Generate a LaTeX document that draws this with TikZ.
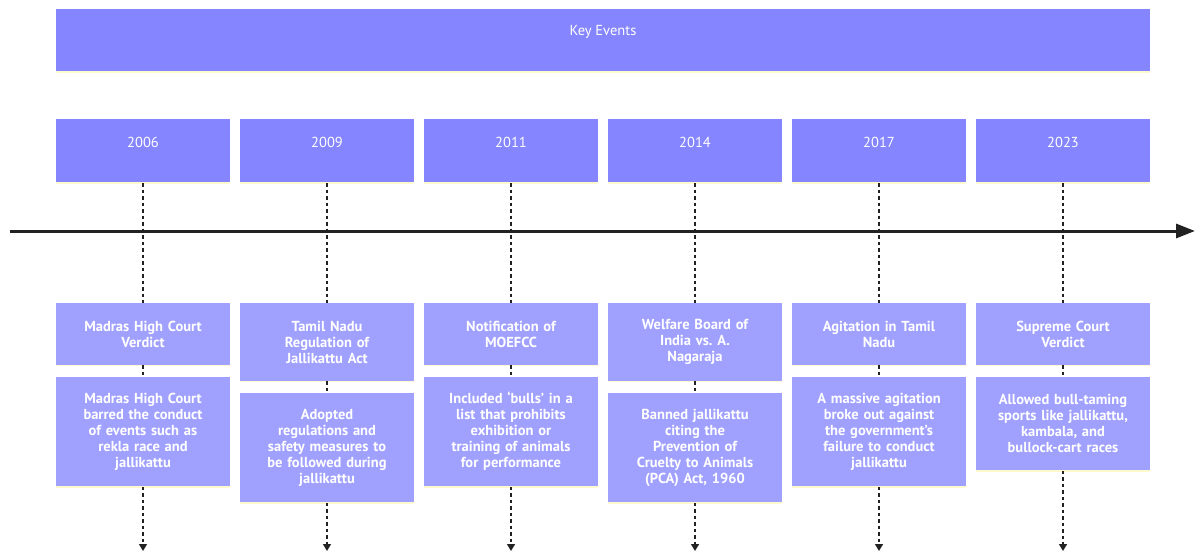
\documentclass[tikz,border=0pt]{standalone}
\usepackage{fontspec}
\setmainfont{PT Sans}
\usetikzlibrary{positioning,arrows.meta}

\definecolor{keyblue}{HTML}{8585FF}
\definecolor{cardblue}{HTML}{A0A0FF}
\definecolor{edgeyellow}{HTML}{FFFACD}
\definecolor{lineblack}{HTML}{222222}

\tikzset{
  yearbox/.style={fill=keyblue, text=white, minimum width=174pt, inner ysep=0pt,
    text height=28pt, text depth=36pt, font=\fontsize{14.5}{16}\selectfont},
  card/.style={fill=cardblue, text=white, text width=168pt, inner xsep=3pt,
    inner ysep=3pt, align=center, anchor=north,
    font=\fontsize{14.5}{16}\selectfont\bfseries},
  rows/.style={minimum height={16pt*#1+30pt}},
  link/.style={lineblack, line width=1.4pt, dash pattern=on 3.5pt off 3pt},
  downlink/.style={link, -{Triangle[length=7pt,width=8pt]}},
}

\begin{document}
\begin{tikzpicture}[x=1pt,y=-1pt]
\useasboundingbox (0,0) rectangle (1195,551);

\node[yearbox, minimum width=1094pt, text height=27pt] (head) at (603,40.5) {Key Events};

% years
\node[yearbox] (y1) at (143,151) {2006};
\node[yearbox] (y2) at (327,151) {2009};
\node[yearbox] (y3) at (511,151) {2011};
\node[yearbox] (y4) at (695,151) {2014};
\node[yearbox] (y5) at (879,151) {2017};
\node[yearbox] (y6) at (1063,151) {2023};

% event titles
\node[card, rows=2] (t1) at (143,303) {Madras High Court\\Verdict};
\node[card, rows=3] (t2) at (327,303) {Tamil Nadu\\Regulation of\\Jallikattu Act};
\node[card, rows=2] (t3) at (511,303) {Notification of\\MOEFCC};
\node[card, rows=3] (t4) at (695,303) {Welfare Board of\\India vs.\ A.\\Nagaraja};
\node[card, rows=2] (t5) at (879,303) {Agitation in Tamil\\Nadu};
\node[card, rows=2] (t6) at (1063,303) {Supreme Court\\Verdict};

% event details
\node[card, rows=5, below=11pt of t1] (d1) {Madras High Court\\barred the conduct\\of events such as\\rekla race and\\jallikattu};
\node[card, rows=5, below=11pt of t2] (d2) {Adopted\\regulations and\\safety measures to\\be followed during\\jallikattu};
\node[card, rows=5, below=11pt of t3] (d3) {Included ‘bulls’ in a\\list that prohibits\\exhibition or\\training of animals\\for performance};
\node[card, rows=5, below=11pt of t4] (d4) {Banned jallikattu\\citing the\\Prevention of\\Cruelty to Animals\\(PCA) Act, 1960};
\node[card, rows=5, below=11pt of t5] (d5) {A massive agitation\\broke out against\\the government’s\\failure to conduct\\jallikattu};
\node[card, rows=4, below=11pt of t6] (d6) {Allowed bull-taming\\sports like jallikattu,\\kambala, and\\bullock-cart races};

\foreach \n in {head,y1,y2,y3,y4,y5,y6,t1,t2,t3,t4,t5,t6,d1,d2,d3,d4,d5,d6}
  \draw[edgeyellow, line width=1.5pt] (\n.south west) -- (\n.south east);

% time axis
\coordinate (tl-start) at (10,231);
\coordinate (tl-end) at (1195,231);
\draw[lineblack, line width=3pt, -{Triangle[length=19pt,width=14pt]}] (tl-start) -- (tl-end);

\foreach \i/\x in {1/143,2/327,3/511,4/695,5/879,6/1063}{
  \coordinate (e\i) at (\x,551);
  \draw[link] (y\i.south) -- (t\i.north);
  \draw[link] (t\i.south) -- (d\i.north);
  \draw[downlink] (d\i.south) -- (e\i);
}
\end{tikzpicture}
\end{document}
